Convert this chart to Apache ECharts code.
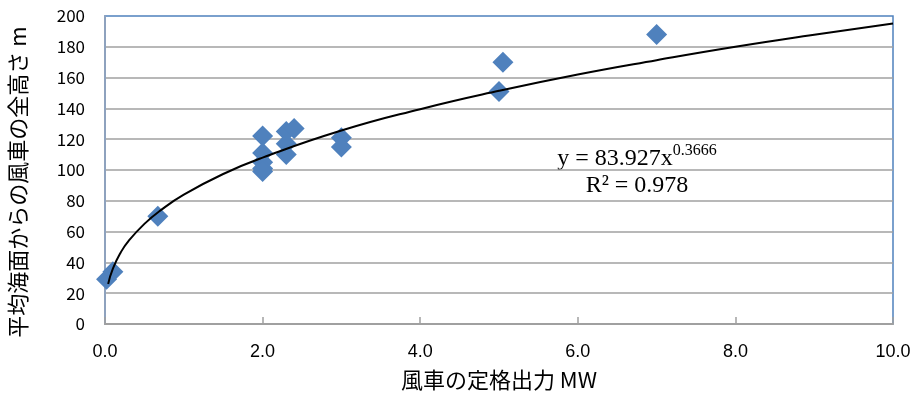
<!DOCTYPE html>
<html>
<head>
<meta charset="utf-8">
<script src="https://cdn.jsdelivr.net/npm/echarts@6/dist/echarts.min.js"></script>
<style>html,body{margin:0;padding:0;background:#fff}#c{width:915px;height:399px}</style>
</head>
<body>
<div id="c"></div>
<script>
// Wind turbine rated power (MW) vs total height above mean sea level (m)
var powerMW = [0.02, 0.1, 0.67, 2.0, 2.0, 2.0, 2.0, 2.0, 2.3, 2.3, 2.3, 2.4, 3.0, 3.0, 5.0, 5.05, 7.0];
var heightM = [29, 34, 70, 122, 111, 105, 101, 99, 125, 117, 110, 127, 121, 115, 151, 170, 188];
// Power trendline
var trendX = [0.04, 0.1, 0.2, 0.3, 0.5, 0.7, 1.0, 1.5, 2, 3, 4, 5, 6, 7, 8, 9, 10];
var trendY = [26, 36, 46.5, 54, 65, 73.6, 84, 97.4, 108, 125.6, 139.5, 151.4, 162, 171.3, 180, 187.8, 195.2];
var xTicks = [0, 2, 4, 6, 8, 10];
var yTicks = [0, 20, 40, 60, 80, 100, 120, 140, 160, 180, 200];

var points = powerMW.map(function (x, i) { return [x, heightM[i]]; });
var trend = trendX.map(function (x, i) { return [x, trendY[i]]; });

var chart = echarts.init(document.getElementById('c'), null, {renderer: 'canvas'});
chart.setOption({
  animation: false,
  grid: {left: 105, top: 16, right: 22, bottom: 75, show: true, borderColor: '#4F81BD', borderWidth: 1.5, backgroundColor: 'transparent'},
  xAxis: {
    type: 'value', min: xTicks[0], max: xTicks[xTicks.length - 1], interval: 2,
    name: '風車の定格出力 MW', nameLocation: 'middle', nameGap: 45,
    nameTextStyle: {fontFamily: 'Noto Sans CJK JP', fontSize: 22, color: '#000'},
    axisLine: {show: true, lineStyle: {color: '#A0A0A0', width: 2}},
    axisTick: {show: true, inside: true, length: 7, lineStyle: {color: '#A0A0A0', width: 1.5}},
    axisLabel: {formatter: function (v) { return v.toFixed(1); }, fontFamily: 'Liberation Sans Narrow, Liberation Sans', fontSize: 18, color: '#000', margin: 19},
    splitLine: {show: false}
  },
  yAxis: {
    type: 'value', min: yTicks[0], max: yTicks[yTicks.length - 1], interval: 20,
    axisLine: {show: true, lineStyle: {color: '#8EA2BE', width: 2}},
    axisTick: {show: false},
    axisLabel: {fontFamily: 'Noto Sans CJK JP', fontSize: 17, color: '#000', margin: 20},
    splitLine: {show: true, showMaxLine: false, lineStyle: {color: '#A0A0A0', width: 1.5}}
  },
  series: [
    {
      type: 'line', data: trend, smooth: true, showSymbol: false, symbol: 'none',
      lineStyle: {color: '#000', width: 2}, z: 3
    },
    {
      type: 'scatter', data: points, symbol: 'diamond', symbolSize: [21, 21],
      itemStyle: {color: '#4F81BD', opacity: 1}, z: 2
    }
  ],
  graphic: [
    {
      type: 'text', x: 18, y: 182, rotation: Math.PI / 2,
      style: {text: '平均海面からの風車の全高さ m', font: '22px "Noto Sans CJK JP"', fill: '#000', textAlign: 'center', textVerticalAlign: 'middle'}
    },
    {
      type: 'text', x: 637, y: 157,
      style: {
        text: '{a|y = 83.927x}{s|0.3666}',
        textAlign: 'center', textVerticalAlign: 'middle',
        rich: {
          a: {fontFamily: 'Liberation Serif', fontSize: 24, color: '#000', lineHeight: 28, verticalAlign: 'bottom'},
          s: {fontFamily: 'Liberation Serif', fontSize: 16, color: '#000', lineHeight: 28, verticalAlign: 'top', padding: [0, 0, 10, 0]}
        }
      }
    },
    {
      type: 'text', x: 637, y: 186,
      style: {text: 'R² = 0.978', font: '24px "Liberation Serif"', fill: '#000', textAlign: 'center', textVerticalAlign: 'middle'}
    }
  ]
});
</script>
</body>
</html>
